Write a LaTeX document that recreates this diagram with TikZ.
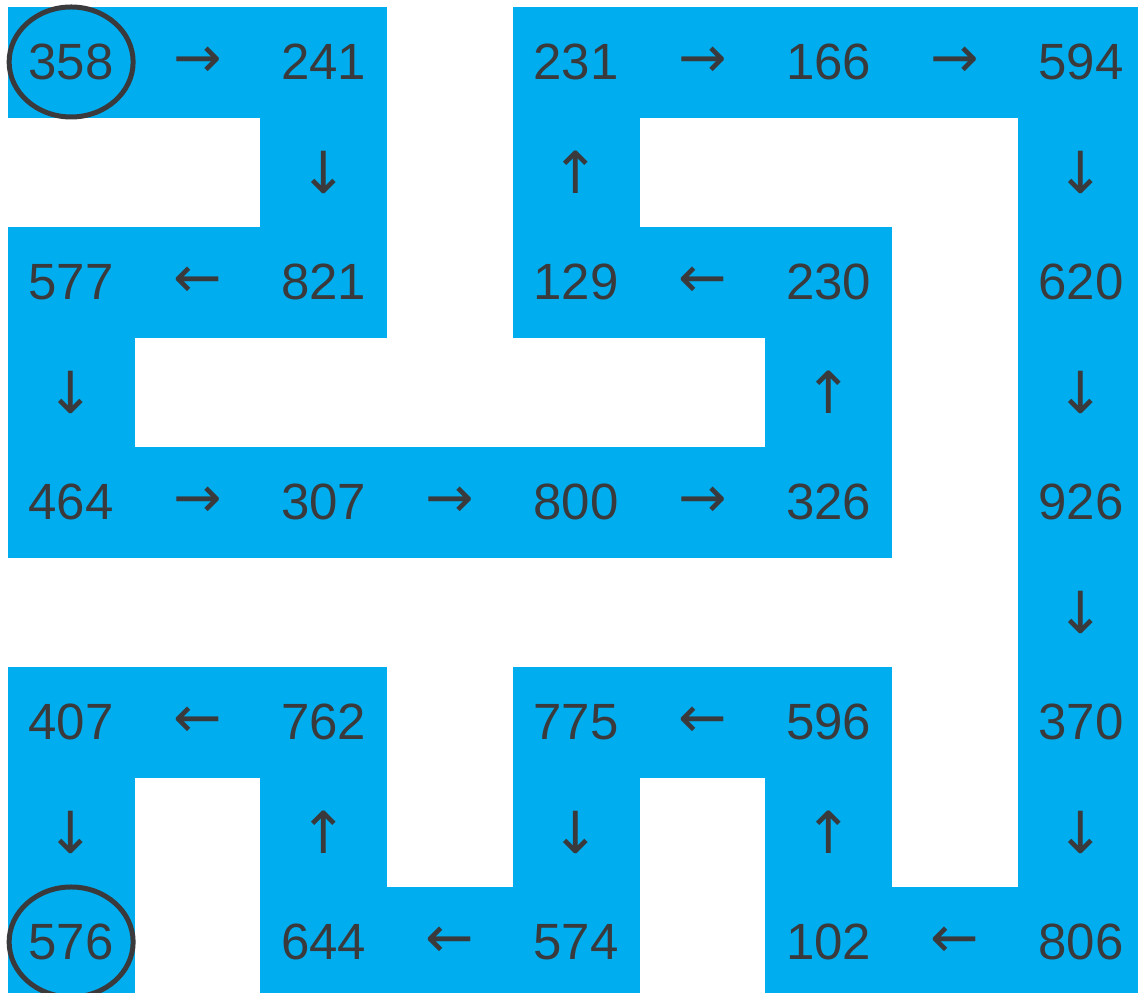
\documentclass[tikz,border=0pt]{standalone}
\usepackage{fontspec}
\setmainfont{Liberation Sans}
\newfontfamily\arwfont{DejaVu Sans}
\usetikzlibrary{shapes.geometric}
\definecolor{mazeblue}{HTML}{00AEEF}
\definecolor{ink}{HTML}{3A3A3D}
\newcommand{\arw}[1]{{\arwfont\fontsize{33}{38}\selectfont #1}}

\begin{document}
\begin{tikzpicture}[x=2.525cm, y=-2.2cm,
  cell/.style={fill=mazeblue, draw=mazeblue, line width=0.5pt},
  num/.style={text=ink, inner sep=0pt, font=\fontsize{29}{35}\selectfont},
  ring/.style={draw=ink, line width=0.1cm, ellipse, inner sep=0pt,
               minimum width=2.48cm, minimum height=2.2cm}]

  \clip (-0.0634,-0.0636) rectangle (8.9505,8.9636);
  \fill[white] (-0.0634,-0.0636) rectangle (8.9505,8.9636);

  \foreach \c/\r/\t in {
      0/0/358, 1/0/\arw{→}, 2/0/241, 4/0/231, 5/0/\arw{→}, 6/0/166, 7/0/\arw{→}, 8/0/594,
      2/1/\arw{↓}, 4/1/\arw{↑}, 8/1/\arw{↓},
      0/2/577, 1/2/\arw{←}, 2/2/821, 4/2/129, 5/2/\arw{←}, 6/2/230, 8/2/620,
      0/3/\arw{↓}, 6/3/\arw{↑}, 8/3/\arw{↓},
      0/4/464, 1/4/\arw{→}, 2/4/307, 3/4/\arw{→}, 4/4/800, 5/4/\arw{→}, 6/4/326, 8/4/926,
      8/5/\arw{↓},
      0/6/407, 1/6/\arw{←}, 2/6/762, 4/6/775, 5/6/\arw{←}, 6/6/596, 8/6/370,
      0/7/\arw{↓}, 2/7/\arw{↑}, 4/7/\arw{↓}, 6/7/\arw{↑}, 8/7/\arw{↓},
      0/8/576, 2/8/644, 3/8/\arw{←}, 4/8/574, 6/8/102, 7/8/\arw{←}, 8/8/806}{
    \draw[cell] (\c,\r) rectangle ++(1,1);
    \node[num] (n\c\r) at (\c+0.5,\r+0.5) {\t};
  }

  \node[ring] (start) at (n00) {};
  \node[ring] (goal)  at (n08) {};
\end{tikzpicture}
\end{document}
